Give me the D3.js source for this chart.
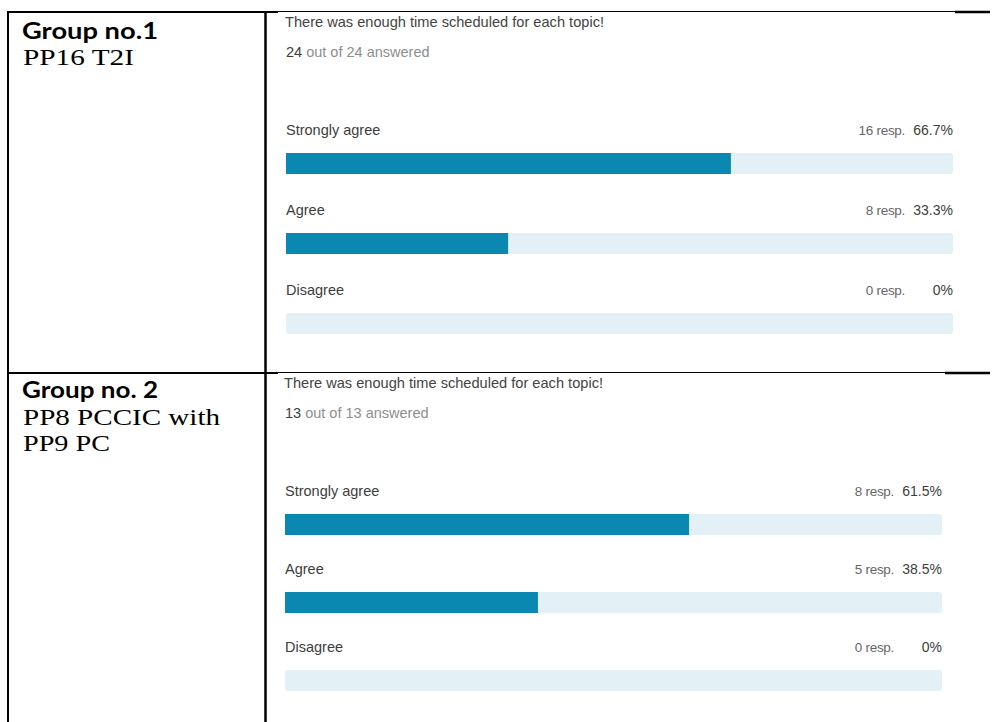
<!DOCTYPE html>
<html>
<head>
<meta charset="utf-8">
<script src="https://cdn.jsdelivr.net/npm/d3@7"></script>
<style>
  html, body { margin: 0; padding: 0; background: #fff; }
  svg { display: block; }
</style>
</head>
<body>
<svg id="chart" width="992" height="722"></svg>
<script>
// -- Data --
const question = "There was enough time scheduled for each topic!";
const categories = ["Strongly agree", "Agree", "Disagree"];

const groupTitles = ["Group no.1", "Group no. 2"];
const groupNames = [["PP16 T2I"], ["PP8 PCCIC with", "PP9 PC"]];
const answered = [24, 13];
const group1Resp = [16, 8, 0];
const group1Pct = [66.7, 33.3, 0];
const group2Resp = [8, 5, 0];
const group2Pct = [61.5, 38.5, 0];

const svg = d3.select("#chart");

// -- Layout for the two rows of the table --
const panels = [
    { x0: 286, x1: 953, titleY: 27, answerY: 57, rowY: 135, step: 80, resp: group1Resp, pct: group1Pct },
    { x0: 285, x1: 942, titleY: 388, answerY: 418, rowY: 496, step: 78, resp: group2Resp, pct: group2Pct }
];
const leftText = [
    { titleY: 39, titleW: 136, lines: [{ y: 65, w: 111 }] },
    { titleY: 398, titleW: 136, lines: [{ y: 425, w: 197 }, { y: 451, w: 87 }] }
];

const COLORS = { fill: "#0a88b1", track: "#e3f0f5", dark: "#3d3d3d", grey: "#8e8e8e", line: "#000" };
const sans = "'Liberation Sans', Arial, sans-serif";

const fmtPct = v => v === 0 ? "0%" : d3.format(".1f")(v) + "%";

// -- Table lines --
function drawLines() {
    const g = svg.append("g").attr("stroke", COLORS.line);
    // left border & column divider
    g.append("line").attr("x1", 8).attr("x2", 8).attr("y1", 11).attr("y2", 722).attr("stroke-width", 2);
    g.append("line").attr("x1", 265.5).attr("x2", 265.5).attr("y1", 11).attr("y2", 722).attr("stroke-width", 2.5);
    const hlines = [{ y: 12, rightStart: 955 }, { y: 373, rightStart: 945 }];
    hlines.forEach(h => {
        g.append("line").attr("x1", 7).attr("x2", 278).attr("y1", h.y).attr("y2", h.y).attr("stroke-width", 2);
        g.append("line").attr("x1", 278).attr("x2", h.rightStart).attr("y1", h.y - 0.5).attr("y2", h.y - 0.5).attr("stroke-width", 1);
        g.append("line").attr("x1", h.rightStart).attr("x2", 990).attr("y1", h.y).attr("y2", h.y).attr("stroke-width", 2.5);
    });
}

// -- Left cells --
function drawLeft() {
    leftText.forEach((t, i) => {
        svg.append("text")
            .attr("x", 22).attr("y", t.titleY)
            .attr("textLength", t.titleW).attr("lengthAdjust", "spacingAndGlyphs")
            .style("font-family", "Lato, 'Open Sans', sans-serif")
            .style("font-weight", "700").style("font-size", "22px")
            .text(groupTitles[i]);
        t.lines.forEach((l, j) => {
            svg.append("text")
                .attr("x", 23).attr("y", l.y)
                .attr("textLength", l.w).attr("lengthAdjust", "spacingAndGlyphs")
                .style("font-family", "'Liberation Serif', 'Times New Roman', serif")
                .style("font-size", "23px")
                .text(groupNames[i][j]);
        });
    });
}

// -- Survey panels --
function drawPanel(p, i) {
    const g = svg.append("g");
    const x = d3.scaleLinear().domain([0, 100]).range([p.x0, p.x1]);
    const y = d3.scalePoint().domain(categories).range([p.rowY, p.rowY + p.step * (categories.length - 1)]);

    g.append("text")
        .attr("x", p.x0 - 1).attr("y", p.titleY)
        .attr("fill", "#444").style("font-family", sans).style("font-size", "14.5px")
        .attr("textLength", 319).attr("lengthAdjust", "spacingAndGlyphs")
        .text(question);

    const ans = g.append("text")
        .attr("x", p.x0).attr("y", p.answerY)
        .style("font-family", sans).style("font-size", "14.5px");
    ans.append("tspan").attr("fill", COLORS.dark).text(answered[i]);
    ans.append("tspan").attr("fill", COLORS.grey).text(` out of ${answered[i]} answered`);

    const rows = g.selectAll(".row")
        .data(categories.map((c, k) => ({ cat: c, resp: p.resp[k], pct: p.pct[k] })))
        .enter().append("g")
        .attr("class", "row")
        .attr("transform", d => `translate(0, ${y(d.cat)})`);

    rows.append("text")
        .attr("x", p.x0).attr("y", 0)
        .attr("fill", COLORS.dark).style("font-family", sans).style("font-size", "14.5px")
        .text(d => d.cat);

    rows.append("text")
        .attr("x", p.x1 - 48).attr("y", 0)
        .attr("text-anchor", "end")
        .attr("fill", "#666").style("font-family", sans).style("font-size", "13.5px")
        .style("letter-spacing", "-0.3px")
        .text(d => `${d.resp} resp.`);

    rows.append("text")
        .attr("x", p.x1).attr("y", 0)
        .attr("text-anchor", "end")
        .attr("fill", COLORS.dark).style("font-family", sans).style("font-size", "14px")
        .text(d => fmtPct(d.pct));

    rows.append("rect")
        .attr("x", x(0)).attr("y", 18)
        .attr("width", x(100) - x(0)).attr("height", 21)
        .attr("rx", 3)
        .attr("fill", COLORS.track);

    rows.filter(d => d.pct > 0).append("rect")
        .attr("x", x(0)).attr("y", 18)
        .attr("width", d => x(d.pct) - x(0)).attr("height", 21)
        .attr("fill", COLORS.fill);
}

drawLines();
drawLeft();
panels.forEach(drawPanel);
</script>
</body>
</html>
